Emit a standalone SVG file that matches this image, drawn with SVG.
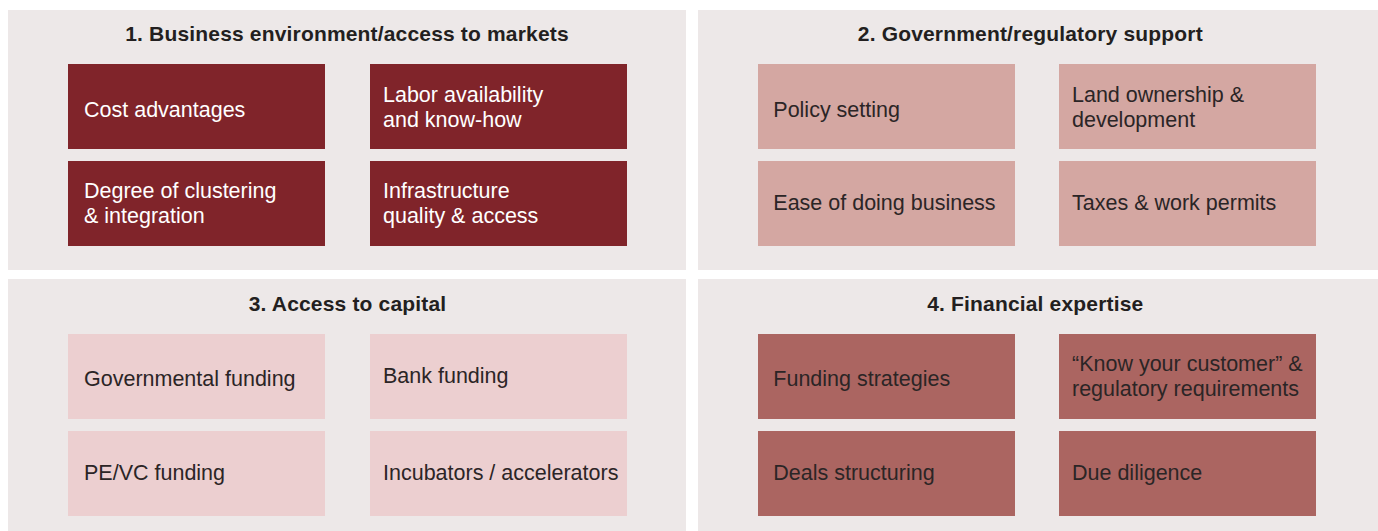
<svg xmlns="http://www.w3.org/2000/svg" width="1378" height="531" viewBox="0 0 1378 531">
  <style>
    .panel { fill: #ede8e8; }
    .title { font-family: "Liberation Sans", Arial, Helvetica, sans-serif; font-size: 21px; font-weight: bold; fill: #231f20; text-anchor: middle; letter-spacing: 0.17px; }
    .lbl { font-family: "Liberation Sans", Arial, Helvetica, sans-serif; font-size: 21.5px; fill: #2b2526; }
    .b1 { fill: #80242a; }
    .b2 { fill: #d4a7a2; }
    .b3 { fill: #eccfd0; }
    .b4 { fill: #ab6561; }
    .light { fill: #ffffff; }
  </style>
  <rect width="1378" height="531" fill="#ffffff"/>

  <!-- Panel 1: Business environment -->
  <g id="panel-1">
    <rect class="panel" x="8" y="10" width="678" height="260"/>
    <text class="title" x="347" y="41">1. Business environment/access to markets</text>
    <g id="cost-advantages">
      <rect class="b1" x="68" y="64" width="257" height="85"/>
      <text class="lbl light" x="84" y="116.7">Cost advantages</text>
    </g>
    <g id="labor-availability">
      <rect class="b1" x="370" y="64" width="257" height="85"/>
      <text class="lbl light" x="383" y="101.5">Labor availability</text>
      <text class="lbl light" x="383" y="126.5">and know-how</text>
    </g>
    <g id="clustering">
      <rect class="b1" x="68" y="161" width="257" height="85"/>
      <text class="lbl light" x="84" y="198.3">Degree of clustering</text>
      <text class="lbl light" x="84" y="223">&amp; integration</text>
    </g>
    <g id="infrastructure">
      <rect class="b1" x="370" y="161" width="257" height="85"/>
      <text class="lbl light" x="383" y="198.3">Infrastructure</text>
      <text class="lbl light" x="383" y="223">quality &amp; access</text>
    </g>
  </g>

  <!-- Panel 2: Government/regulatory support -->
  <g id="panel-2">
    <rect class="panel" x="698" y="10" width="680" height="260"/>
    <text class="title" x="1030.3" y="41">2. Government/regulatory support</text>
    <g id="policy-setting">
      <rect class="b2" x="758" y="64" width="257" height="85"/>
      <text class="lbl" x="773.3" y="116.7">Policy setting</text>
    </g>
    <g id="land-ownership">
      <rect class="b2" x="1059" y="64" width="257" height="85"/>
      <text class="lbl" x="1072" y="101.5">Land ownership &amp;</text>
      <text class="lbl" x="1072" y="126.5">development</text>
    </g>
    <g id="ease-of-business">
      <rect class="b2" x="758" y="161" width="257" height="85"/>
      <text class="lbl" x="773.3" y="210">Ease of doing business</text>
    </g>
    <g id="taxes-permits">
      <rect class="b2" x="1059" y="161" width="257" height="85"/>
      <text class="lbl" x="1072" y="210">Taxes &amp; work permits</text>
    </g>
  </g>

  <!-- Panel 3: Access to capital -->
  <g id="panel-3">
    <rect class="panel" x="8" y="279" width="678" height="252"/>
    <text class="title" x="347.5" y="310.5">3. Access to capital</text>
    <g id="governmental-funding">
      <rect class="b3" x="68" y="334" width="257" height="85"/>
      <text class="lbl" x="84" y="386">Governmental funding</text>
    </g>
    <g id="bank-funding">
      <rect class="b3" x="370" y="334" width="257" height="85"/>
      <text class="lbl" x="383" y="382.7">Bank funding</text>
    </g>
    <g id="pe-vc-funding">
      <rect class="b3" x="68" y="431" width="257" height="85"/>
      <text class="lbl" x="84" y="480">PE/VC funding</text>
    </g>
    <g id="incubators">
      <rect class="b3" x="370" y="431" width="257" height="85"/>
      <text class="lbl" x="383" y="480">Incubators / accelerators</text>
    </g>
  </g>

  <!-- Panel 4: Financial expertise -->
  <g id="panel-4">
    <rect class="panel" x="698" y="279" width="680" height="252"/>
    <text class="title" x="1035.3" y="310.5">4. Financial expertise</text>
    <g id="funding-strategies">
      <rect class="b4" x="758" y="334" width="257" height="85"/>
      <text class="lbl" x="773.3" y="386">Funding strategies</text>
    </g>
    <g id="kyc">
      <rect class="b4" x="1059" y="334" width="257" height="85"/>
      <text class="lbl" x="1072" y="370.7">“Know your customer” &amp;</text>
      <text class="lbl" x="1072" y="395.5">regulatory requirements</text>
    </g>
    <g id="deals-structuring">
      <rect class="b4" x="758" y="431" width="257" height="85"/>
      <text class="lbl" x="773.3" y="480">Deals structuring</text>
    </g>
    <g id="due-diligence">
      <rect class="b4" x="1059" y="431" width="257" height="85"/>
      <text class="lbl" x="1072" y="480">Due diligence</text>
    </g>
  </g>

  <!-- no connectors in this layout -->
  <g id="connectors"/>
</svg>
